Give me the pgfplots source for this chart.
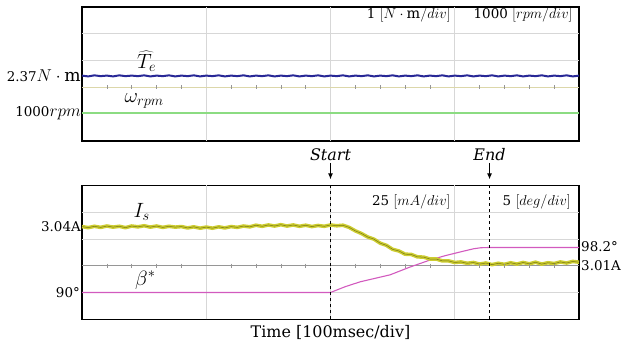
\documentclass[border=0pt]{standalone}
\usepackage{pgfplots}
\pgfplotsset{compat=1.18}
\usepackage{fontspec}
\setmainfont{DejaVu Serif}
\usetikzlibrary{arrows.meta}
\definecolor{gridc}{RGB}{215,215,215}
\definecolor{tickc}{RGB}{150,150,150}
\definecolor{yelgrid}{RGB}{220,215,170}
\definecolor{teblue}{RGB}{40,40,150}
\definecolor{wgreen}{RGB}{140,220,130}
\definecolor{bmag}{RGB}{210,90,190}
\definecolor{isyel}{RGB}{205,205,50}
\definecolor{isolive}{RGB}{120,120,20}
\newcommand\lbl{\fontsize{13.5}{15}\selectfont}
\newcommand\bglbl{\fontsize{16}{18}\selectfont}
\newcommand\m[1]{{\fontsize{14.4}{16}\selectfont$#1$}}
\newcommand\M[1]{{\fontsize{17.28}{19}\selectfont$#1$}}
\newcommand\MM[1]{{\fontsize{20.74}{23}\selectfont$#1$}}
\begin{document}
\begin{tikzpicture}
\useasboundingbox (0bp,0bp) rectangle (637bp,345bp);
\pgfplotsset{
  panel/.style={
    scale only axis, width=497bp, height=134bp,
    xmin=0, xmax=4, ymin=0, ymax=5,
    xtick=\empty, ytick=\empty,
    axis line style={black, line width=1.1bp},
    clip=false,
  },
  gl/.style={gridc, line width=0.6bp, forget plot},
}
% ---------------- top panel ----------------
\begin{axis}[panel, at={(82bp,204bp)}, anchor=south west]
\addplot[gl] coordinates {(1,0)(1,5)};
\addplot[gl] coordinates {(2,0)(2,5)};
\addplot[gl] coordinates {(3,0)(3,5)};
\addplot[gl] coordinates {(0,3)(4,3)};
\addplot[gl] coordinates {(0,4)(4,4)};
\addplot[yelgrid, line width=0.8bp] coordinates {(0,2)(4,2)};
\addplot[only marks, mark=|, mark size=2bp, mark options={tickc, line width=0.5bp}] coordinates {
(0.2,2)(0.4,2)(0.6,2)(0.8,2)(1.2,2)(1.4,2)(1.6,2)(1.8,2)(2.2,2)(2.4,2)(2.6,2)(2.8,2)(3.2,2)(3.4,2)(3.6,2)(3.8,2)};
\addplot[wgreen, line width=1.8bp] coordinates {(0,1.03)(4,1.03)};
\addplot[teblue, line width=2bp] coordinates {
(0.00,2.44)(0.05,2.41)(0.10,2.45)(0.15,2.42)(0.20,2.44)(0.25,2.41)(0.30,2.45)(0.35,2.42)(0.40,2.44)(0.45,2.42)
(0.50,2.45)(0.55,2.41)(0.60,2.44)(0.65,2.42)(0.70,2.45)(0.75,2.41)(0.80,2.44)(0.85,2.42)(0.90,2.45)(0.95,2.41)
(1.00,2.44)(1.05,2.42)(1.10,2.45)(1.15,2.41)(1.20,2.44)(1.25,2.42)(1.30,2.45)(1.35,2.41)(1.40,2.44)(1.45,2.42)
(1.50,2.45)(1.55,2.41)(1.60,2.44)(1.65,2.42)(1.70,2.45)(1.75,2.41)(1.80,2.44)(1.85,2.42)(1.90,2.45)(1.95,2.41)
(2.00,2.44)(2.05,2.42)(2.10,2.45)(2.15,2.41)(2.20,2.44)(2.25,2.42)(2.30,2.45)(2.35,2.41)(2.40,2.44)(2.45,2.42)
(2.50,2.45)(2.55,2.41)(2.60,2.44)(2.65,2.42)(2.70,2.45)(2.75,2.41)(2.80,2.44)(2.85,2.42)(2.90,2.45)(2.95,2.41)
(3.00,2.44)(3.05,2.42)(3.10,2.45)(3.15,2.41)(3.20,2.44)(3.25,2.42)(3.30,2.45)(3.35,2.41)(3.40,2.44)(3.45,2.42)
(3.50,2.45)(3.55,2.41)(3.60,2.44)(3.65,2.42)(3.70,2.45)(3.75,2.41)(3.80,2.44)(3.85,2.42)(3.90,2.45)(3.95,2.41)(4.00,2.44)};
\node[anchor=east, inner sep=1bp, font=\lbl] at (axis cs:0,2.43) {2.37\M{N\cdot\mathrm{m}}};
\node[anchor=east, inner sep=1bp, font=\lbl] at (axis cs:0,1.03) {1000\M{rpm}};
\node at (axis cs:0.52,2.98) {\MM{\widehat{T}_e}};
\node at (axis cs:0.50,1.50) {\MM{\omega_{rpm}}};
\node[font=\lbl] at (axis cs:2.63,4.70) {1 \m{[N\cdot\mathrm{m}/div]}};
\node[font=\lbl] at (axis cs:3.55,4.70) {1000 \m{[rpm/div]}};
\end{axis}
% ---------------- bottom panel ----------------
\begin{axis}[panel, at={(82bp,25.7bp)}, anchor=south west]
\addplot[gl] coordinates {(1,0)(1,5)};
\addplot[gl] coordinates {(2,0)(2,5)};
\addplot[gl] coordinates {(3,0)(3,5)};
\addplot[gl] coordinates {(0,1)(4,1)};
\addplot[gl] coordinates {(0,3)(4,3)};
\addplot[gl] coordinates {(0,4)(4,4)};
\addplot[tickc, line width=0.6bp] coordinates {(0,2)(4,2)};
\addplot[only marks, mark=|, mark size=2bp, mark options={tickc, line width=0.5bp}] coordinates {
(0.2,2)(0.4,2)(0.6,2)(0.8,2)(1.2,2)(1.4,2)(1.6,2)(1.8,2)(2.2,2)(2.4,2)(2.6,2)(2.8,2)(3.2,2)(3.4,2)(3.6,2)(3.8,2)};
% beta*
\addplot[bmag, line width=1.1bp] coordinates {
(0,1.0)(2.0,1.0)(2.12,1.22)(2.24,1.40)(2.36,1.53)(2.48,1.66)(2.64,1.95)(2.80,2.21)(2.92,2.37)(3.05,2.52)(3.15,2.63)(3.21,2.67)(3.28,2.68)(4.0,2.68)};
% I_s
\pgfplotstableread{
x y
0.00 3.46
0.05 3.42
0.10 3.47
0.15 3.43
0.20 3.48
0.25 3.44
0.30 3.47
0.35 3.42
0.40 3.48
0.45 3.45
0.50 3.49
0.55 3.44
0.60 3.48
0.65 3.43
0.70 3.47
0.75 3.44
0.80 3.46
0.85 3.41
0.90 3.45
0.95 3.40
1.00 3.44
1.05 3.40
1.10 3.45
1.15 3.41
1.20 3.46
1.25 3.43
1.30 3.48
1.35 3.45
1.40 3.51
1.45 3.47
1.50 3.52
1.55 3.48
1.60 3.53
1.65 3.48
1.70 3.52
1.75 3.47
1.80 3.51
1.85 3.46
1.90 3.50
1.95 3.47
2.00 3.52
2.05 3.49
2.10 3.51
2.15 3.43
2.20 3.30
2.25 3.20
2.30 3.07
2.35 2.99
2.40 2.84
2.45 2.76
2.50 2.61
2.55 2.55
2.60 2.43
2.65 2.42
2.70 2.33
2.75 2.32
2.80 2.25
2.85 2.25
2.90 2.18
2.95 2.18
3.00 2.12
3.05 2.14
3.10 2.09
3.15 2.12
3.20 2.06
3.25 2.10
3.30 2.04
3.35 2.09
3.40 2.05
3.45 2.11
3.50 2.06
3.55 2.12
3.60 2.07
3.65 2.13
3.70 2.06
3.75 2.11
3.80 2.08
3.85 2.14
3.90 2.10
3.95 2.16
4.00 2.13
}\istable
\addplot[isyel, line width=3.6bp] table {\istable};
\addplot[isolive, line width=0.5bp] table {\istable};
% start / end markers
\addplot[black, dashed, line width=0.9bp] coordinates {(2.0,0)(2.0,5)};
\addplot[black, dashed, line width=0.9bp] coordinates {(3.28,0)(3.28,5)};
\draw[-{Latex[length=6bp,width=5bp]}, line width=1.1bp] (axis cs:2.0,5.84) -- (axis cs:2.0,5.22);
\draw[-{Latex[length=6bp,width=5bp]}, line width=1.1bp] (axis cs:3.28,5.84) -- (axis cs:3.28,5.22);
\node[font=\bglbl\itshape] at (axis cs:2.0,6.16) {Start};
\node[font=\bglbl\itshape] at (axis cs:3.28,6.16) {End};
\node[anchor=east, inner sep=1bp, font=\lbl] at (axis cs:0,3.45) {3.04A};
\node[anchor=east, inner sep=2bp, font=\lbl] at (axis cs:0,1.0) {90°};
\node at (axis cs:0.48,4.0) {\MM{I_s}};
\node at (axis cs:0.51,1.46) {\MM{\beta^*}};
\node[font=\lbl] at (axis cs:2.65,4.38) {25 \m{[mA/div]}};
\node[font=\lbl] at (axis cs:3.66,4.38) {5 \m{[deg/div]}};
\node[anchor=west, inner sep=2bp, font=\lbl] at (axis cs:4,2.70) {98.2°};
\node[anchor=west, inner sep=2bp, font=\lbl] at (axis cs:4,2.02) {3.01A};
\node[font=\bglbl] at (axis cs:2.0,-0.51) {Time [100msec/div]};
\end{axis}
\end{tikzpicture}
\end{document}
